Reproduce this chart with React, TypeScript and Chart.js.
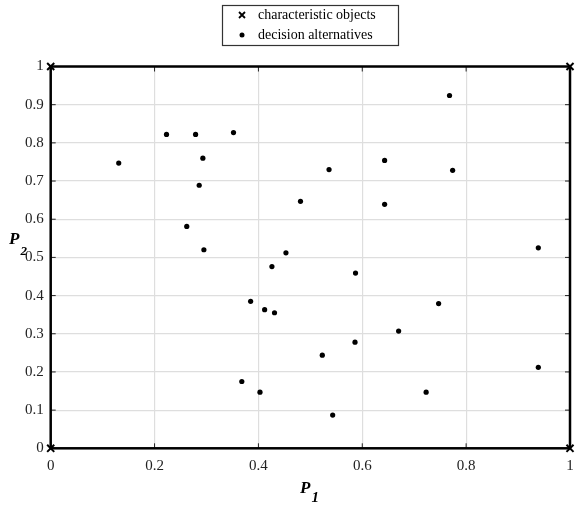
import React, { useEffect, useRef } from "react";
import { Chart, registerables } from "chart.js";

Chart.register(...registerables);

// decision alternatives
const altP1 = [0.131, 0.223, 0.279, 0.352, 0.293, 0.286, 0.481, 0.262, 0.295, 0.453, 0.426, 0.768, 0.536, 0.643, 0.774, 0.643, 0.587, 0.385, 0.412, 0.431, 0.670, 0.586, 0.523, 0.368, 0.403, 0.543, 0.747, 0.723, 0.939, 0.939];
const altP2 = [0.747, 0.822, 0.822, 0.827, 0.760, 0.689, 0.647, 0.581, 0.520, 0.512, 0.476, 0.924, 0.730, 0.754, 0.728, 0.639, 0.459, 0.385, 0.363, 0.355, 0.307, 0.278, 0.244, 0.175, 0.147, 0.087, 0.379, 0.147, 0.212, 0.525];

// characteristic objects
const charP1 = [0, 0, 1, 1];
const charP2 = [0, 1, 0, 1];

const xTicks = [0, 0.2, 0.4, 0.6, 0.8, 1];
const xTickLabels = ["0", "0.2", "0.4", "0.6", "0.8", "1"];
const yTicks = [0, 0.1, 0.2, 0.3, 0.4, 0.5, 0.6, 0.7, 0.8, 0.9, 1];
const yTickLabels = ["0", "0.1", "0.2", "0.3", "0.4", "0.5", "0.6", "0.7", "0.8", "0.9", "1"];

const legendLabels = ["characteristic objects", "decision alternatives"];
const xTitle = ["P", "1"];
const yTitle = ["P", "2"];

const SERIF = "'Liberation Serif', 'Times New Roman', serif";

const zeroPad = () => ({ left: 0, right: 0, top: 0, bottom: 0 });

const framePlugin = {
  id: "frame",
  beforeDatasetsDraw(chart: any) {
    const { ctx, chartArea: a, scales } = chart;
    ctx.save();
    ctx.strokeStyle = "#222";
    ctx.lineWidth = 1;
    const tl = 5;
    ctx.beginPath();
    xTicks.forEach((v) => {
      const x = scales.x.getPixelForValue(v);
      ctx.moveTo(x, a.bottom);
      ctx.lineTo(x, a.bottom - tl);
      ctx.moveTo(x, a.top);
      ctx.lineTo(x, a.top + tl);
    });
    yTicks.forEach((v) => {
      const y = scales.y.getPixelForValue(v);
      ctx.moveTo(a.left, y);
      ctx.lineTo(a.left + tl, y);
      ctx.moveTo(a.right, y);
      ctx.lineTo(a.right - tl, y);
    });
    ctx.stroke();
    ctx.strokeStyle = "#000";
    ctx.lineWidth = 2.5;
    ctx.strokeRect(a.left, a.top, a.right - a.left, a.bottom - a.top);
    ctx.restore();
  },
  afterDraw(chart: any) {
    const { ctx } = chart;
    ctx.save();
    // legend box
    ctx.fillStyle = "#fff";
    ctx.fillRect(222, 5, 176, 40);
    ctx.strokeStyle = "#333";
    ctx.lineWidth = 1.2;
    ctx.strokeRect(222.5, 5.5, 176, 40);
    // legend markers
    ctx.strokeStyle = "#000";
    ctx.lineWidth = 1.8;
    ctx.beginPath();
    ctx.moveTo(239, 12);
    ctx.lineTo(245, 18);
    ctx.moveTo(245, 12);
    ctx.lineTo(239, 18);
    ctx.stroke();
    ctx.fillStyle = "#000";
    ctx.beginPath();
    ctx.arc(242, 35, 2.5, 0, Math.PI * 2);
    ctx.fill();
    ctx.font = `14px ${SERIF}`;
    ctx.textBaseline = "middle";
    ctx.textAlign = "left";
    ctx.fillText(legendLabels[0], 258, 15);
    ctx.fillText(legendLabels[1], 258, 35);
    // axis titles
    ctx.textBaseline = "alphabetic";
    ctx.font = `bold italic 17px ${SERIF}`;
    ctx.fillText(xTitle[0], 300, 493);
    const pw = ctx.measureText(xTitle[0]).width;
    ctx.font = `bold italic 15px ${SERIF}`;
    ctx.fillText(xTitle[1], 300 + pw + 1, 502);
    ctx.font = `bold italic 17px ${SERIF}`;
    ctx.fillText(yTitle[0], 9, 244);
    const pw2 = ctx.measureText(yTitle[0]).width;
    ctx.font = `bold italic 13px ${SERIF}`;
    ctx.fillText(yTitle[1], 9 + pw2 + 1, 255);
    ctx.restore();
  },
};

export default function App() {
  const ref = useRef<HTMLCanvasElement | null>(null);
  useEffect(() => {
    if (!ref.current) return;
    const chart = new Chart(ref.current, {
      type: "scatter",
      data: {
        datasets: [
          {
            label: legendLabels[1],
            data: altP1.map((x, i) => ({ x, y: altP2[i] })),
            pointStyle: "circle",
            pointRadius: 2.6,
            pointBackgroundColor: "#000",
            pointBorderColor: "#000",
            pointBorderWidth: 0,
            order: 2,
          },
          {
            label: legendLabels[0],
            data: charP1.map((x, i) => ({ x, y: charP2[i] })),
            pointStyle: "crossRot",
            pointRadius: 5,
            pointBorderColor: "#000",
            pointBorderWidth: 2,
            clip: false as any,
            order: 1,
          },
        ],
      },
      options: {
        responsive: false,
        animation: false,
        layout: { autoPadding: false, padding: { top: 66.5, right: 5, left: 0, bottom: 0 } },
        plugins: {
          legend: { display: false },
          tooltip: { enabled: false },
        },
        scales: {
          x: {
            type: "linear",
            min: 0,
            max: 1,
            afterBuildTicks: (s: any) => {
              s.ticks = xTicks.map((v) => ({ value: v }));
            },
            afterFit: (s: any) => {
              s.height = 506 - 448.3;
              s.getPadding = zeroPad;
            },
            ticks: {
              callback: (_v: any, i: number) => xTickLabels[i],
              font: { family: SERIF, size: 15 },
              color: "#222",
              padding: 9,
              maxRotation: 0,
            },
            grid: { color: "#dedede", lineWidth: 1.2, drawTicks: false },
            border: { display: false },
          },
          y: {
            type: "linear",
            min: 0,
            max: 1,
            afterBuildTicks: (s: any) => {
              s.ticks = yTicks.map((v) => ({ value: v }));
            },
            afterFit: (s: any) => {
              s.width = 50.7;
              s.getPadding = zeroPad;
            },
            ticks: {
              callback: (_v: any, i: number) => yTickLabels[i],
              font: { family: SERIF, size: 15 },
              color: "#222",
              padding: 7,
            },
            grid: { color: "#dedede", lineWidth: 1.2, drawTicks: false },
            border: { display: false },
          },
        },
      },
      plugins: [framePlugin],
    });
    return () => chart.destroy();
  }, []);
  return (
    <div style={{ position: "fixed", left: 0, top: 0, width: 575, height: 506, background: "#fff" }}>
      <canvas ref={ref} width={575} height={506} style={{ display: "block" }} />
    </div>
  );
}
